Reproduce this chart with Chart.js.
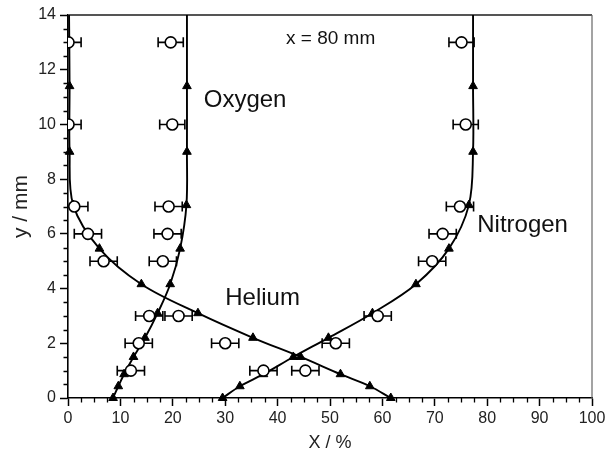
<!DOCTYPE html>
<html><head><meta charset="utf-8">
<script src="https://cdn.jsdelivr.net/npm/chart.js@4.4.1/dist/chart.umd.min.js"></script>
<style>html,body{margin:0;padding:0;background:#fff}#wrap{width:616px;height:456px;position:relative}</style>
</head><body><div id="wrap"><canvas id="c"></canvas></div>
<script>
// Model curves (lines with triangles): shared y positions
const modelY        = [0,    0.43, 0.87, 1.5,  2.2,  3.1,  4.16, 5.46, 7.05, 9.0,  11.4, 14];
const oxygenModel   = [8.6,  9.6,  10.7, 12.5, 14.7, 17.1, 19.5, 21.4, 22.6, 22.7, 22.7, 22.7];
const heliumModel   = [61.6, 57.6, 52.0, 44.4, 35.3, 24.8, 14.0, 6.0,  1.0,  0.3,  0.3,  0.2];
const nitrogenModel = [29.5, 32.8, 37.3, 43.0, 49.7, 58.1, 66.4, 72.7, 76.5, 77.3, 77.3, 77.3];
// Experimental points (open circles with horizontal error bars)
const expY        = [1,    2,    3,    5,    6,    7,    10,   13];
const oxygenExp   = [12.0, 13.5, 15.5, 18.1, 19.0, 19.2, 19.9, 19.6];
const heliumExp   = [45.3, 30.0, 21.1, 6.8,  3.8,  1.2,  0.1,  0.1];
const nitrogenExp = [37.3, 51.1, 59.1, 69.5, 71.5, 74.8, 75.9, 75.1];
const expErr      = [2.6,  2.6,  2.6,  2.6,  2.6,  2.6,  2.4,  2.4];
// Axes
const xTicks = [0, 10, 20, 30, 40, 50, 60, 70, 80, 90, 100];
const yTicks = [0, 2, 4, 6, 8, 10, 12, 14];
const xMinorStep = 2.5, yMinorStep = 0.5;
// Annotations
const labels = [
  {text: 'Oxygen',   x: 25.9, y: 10.63, size: 24},
  {text: 'Helium',   x: 30.0, y: 3.39,  size: 24},
  {text: 'Nitrogen', x: 78.1, y: 6.05,  size: 24},
  {text: 'x = 80 mm', x: 41.6, y: 12.93, size: 19}
];

const FONT = "'Liberation Sans', Arial, sans-serif";
const pts = (xs, ys) => xs.map((v, i) => ({x: v, y: ys[i]}));
const triRadius = modelY.map((v, i) => i === modelY.length - 1 ? 0 : 5);

function modelDs(xs) {
  return {type: 'line', data: pts(xs, modelY), showLine: true, borderColor: '#000', borderWidth: 1.9,
    tension: 0.35, pointStyle: 'triangle', pointRadius: triRadius, pointBackgroundColor: '#000',
    pointBorderColor: '#000', pointBorderWidth: 1, clip: false, order: 2};
}
function expDs(xs) {
  return {type: 'scatter', data: pts(xs, expY), showLine: false, pointStyle: 'circle', pointRadius: 5.5,
    pointBackgroundColor: '#fff', pointBorderColor: '#000', pointBorderWidth: 1.6, clip: 0, order: 1,
    errors: expErr};
}

const extras = {
  id: 'extras',
  beforeDatasetsDraw(chart) {
    const {ctx, chartArea: a, scales: {x, y}} = chart;
    ctx.save();
    // minor ticks
    ctx.strokeStyle = '#000'; ctx.lineWidth = 1.3;
    ctx.beginPath();
    for (let v = 0; v <= 100 + 1e-9; v += xMinorStep) {
      if (xTicks.includes(Math.round(v * 10) / 10)) continue;
      const px = Math.round(x.getPixelForValue(v)) + 0.5;
      ctx.moveTo(px, a.bottom); ctx.lineTo(px, a.bottom + 4.5);
    }
    for (let v = 0; v <= 14 + 1e-9; v += yMinorStep) {
      if (yTicks.includes(Math.round(v * 10) / 10)) continue;
      const py = Math.round(y.getPixelForValue(v)) + 0.5;
      ctx.moveTo(a.left - 4.5, py); ctx.lineTo(a.left, py);
    }
    ctx.stroke();
    // frame top/right
    ctx.strokeStyle = '#555'; ctx.lineWidth = 2;
    ctx.beginPath(); ctx.moveTo(a.left, a.top); ctx.lineTo(a.right, a.top); ctx.stroke();
    ctx.strokeStyle = '#666'; ctx.lineWidth = 1.2;
    ctx.beginPath(); ctx.moveTo(a.right, a.top); ctx.lineTo(a.right, a.bottom); ctx.stroke();
    // error bars (clipped to plot area)
    ctx.beginPath(); ctx.rect(a.left, a.top, a.right - a.left, a.bottom - a.top); ctx.clip();
    ctx.strokeStyle = '#000'; ctx.lineWidth = 1.6;
    chart.data.datasets.forEach(ds => {
      if (!ds.errors) return;
      ds.data.forEach((p, i) => {
        const e = ds.errors[i];
        const x1 = x.getPixelForValue(p.x - e), x2 = x.getPixelForValue(p.x + e), py = y.getPixelForValue(p.y);
        ctx.beginPath();
        ctx.moveTo(x1, py); ctx.lineTo(x2, py);
        ctx.moveTo(x1, py - 5); ctx.lineTo(x1, py + 5);
        ctx.moveTo(x2, py - 5); ctx.lineTo(x2, py + 5);
        ctx.stroke();
      });
    });
    ctx.restore();
  },
  afterDatasetsDraw(chart) {
    const {ctx, scales: {x, y}} = chart;
    ctx.save();
    ctx.fillStyle = '#111'; ctx.textAlign = 'left'; ctx.textBaseline = 'alphabetic';
    labels.forEach(l => {
      ctx.font = l.size + 'px ' + FONT;
      ctx.fillText(l.text, x.getPixelForValue(l.x), y.getPixelForValue(l.y));
    });
    ctx.restore();
  }
};

new Chart(document.getElementById('c'), {
  type: 'scatter',
  data: {datasets: [modelDs(oxygenModel), modelDs(heliumModel), modelDs(nitrogenModel),
    expDs(oxygenExp), expDs(heliumExp), expDs(nitrogenExp)]},
  options: {
    responsive: true, maintainAspectRatio: false, animation: false,
    layout: {padding: {left: 0, right: 24, top: 15, bottom: 0}},
    plugins: {legend: {display: false}, tooltip: {enabled: false}},
    scales: {
      x: {type: 'linear', min: 0, max: 100,
        afterBuildTicks: s => { s.ticks = xTicks.map(v => ({value: v})); },
        afterFit: s => { s.height = 58; },
        ticks: {padding: 3, color: '#222', font: {family: FONT, size: 16}, maxRotation: 0, autoSkip: false},
        grid: {drawOnChartArea: false, drawTicks: true, tickLength: 8, tickColor: '#000', tickWidth: 1.5},
        border: {display: true, color: '#000', width: 1.6},
        title: {display: true, text: 'X / %', color: '#222', font: {family: FONT, size: 18}, padding: {top: 0, bottom: 2}}},
      y: {type: 'linear', min: 0, max: 14,
        afterBuildTicks: s => { s.ticks = yTicks.map(v => ({value: v})); },
        afterFit: s => { s.width = 68; },
        ticks: {padding: 4, color: '#222', font: {family: FONT, size: 16}, autoSkip: false},
        grid: {drawOnChartArea: false, drawTicks: true, tickLength: 8, tickColor: '#000', tickWidth: 1.5},
        border: {display: true, color: '#000', width: 1.6},
        title: {display: true, text: 'y / mm', color: '#222', font: {family: FONT, size: 21}, padding: {top: 9, bottom: 0}}}
    }
  },
  plugins: [extras]
});
</script></body></html>
